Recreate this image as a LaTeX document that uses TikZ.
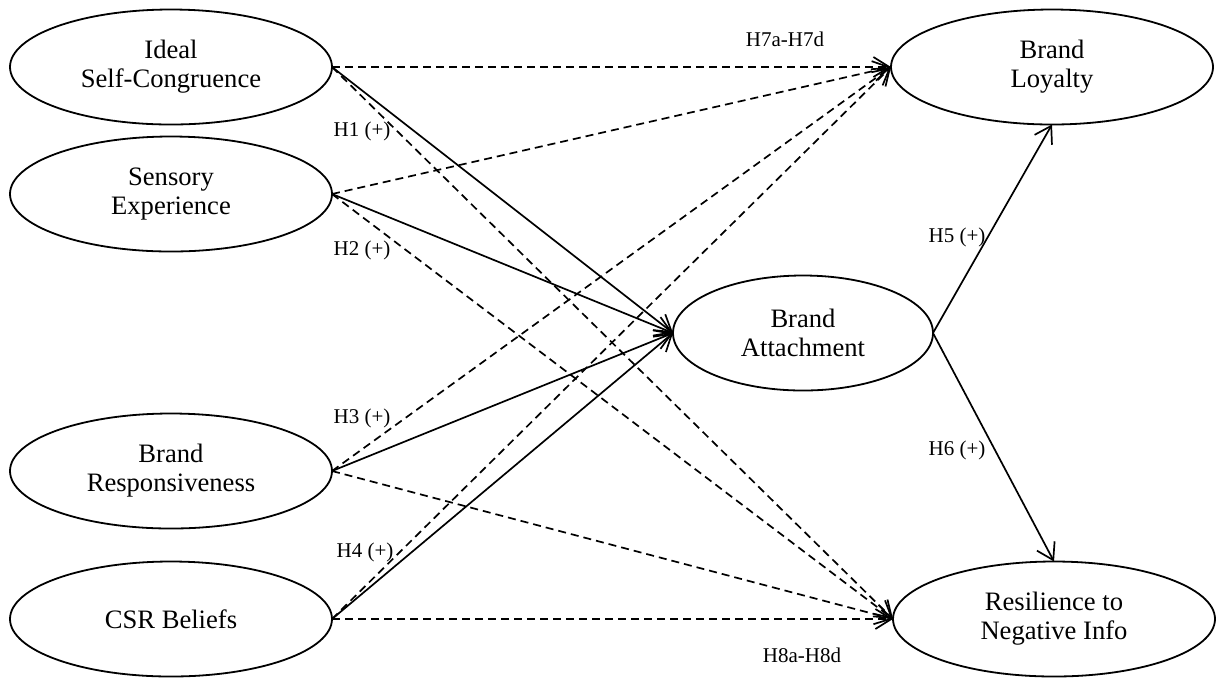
\documentclass[tikz,border=0pt]{standalone}
\usepackage{fontspec}
\setmainfont{Liberation Serif}
\usetikzlibrary{shapes.geometric,arrows.meta}
\begin{document}
\begin{tikzpicture}[x=0.5pt,y=-0.5pt,
  construct/.style={ellipse,draw,line width=0.9pt,inner sep=0pt,outer sep=0pt,
    minimum width=161pt,minimum height=57.5pt,align=center,
    font=\fontsize{13.3}{14.5}\selectfont},
  pathsolid/.style={line width=0.85pt,-{Straight Barb[length=8pt,width=10pt]}},
  pathdash/.style={pathsolid,dash pattern=on 4pt off 2.5pt},
  hyp/.style={font=\fontsize{10.5}{12}\selectfont,inner sep=0pt}]
\useasboundingbox (0,0) rectangle (1216,677);
% constructs
\node[construct] (ideal) at (171,67) {Ideal\\Self-Congruence};
\node[construct] (sens) at (171,194) {Sensory\\Experience};
\node[construct] (resp) at (171,471) {Brand\\Responsiveness};
\node[construct] (csr) at (171,619) {CSR Beliefs};
\node[construct,minimum width=130pt] (att) at (803,333) {Brand\\Attachment};
\node[construct] (loy) at (1052,67) {Brand\\Loyalty};
\node[construct] (res) at (1054,619) {Resilience to\\Negative Info};
% connectors
\foreach \s in {ideal,sens,resp,csr} {
  \draw[pathdash] (\s.east) -- (loy.west);
  \draw[pathdash] (\s.east) -- (res.west);
  \draw[pathsolid] (\s.east) -- (att.west);
}
\draw[pathsolid] (att.east) -- (loy.south);
\draw[pathsolid] (att.east) -- (res.north);
% labels
\node[hyp] (h1) at (362,131) {H1 (+)};
\node[hyp] (h2) at (362,250) {H2 (+)};
\node[hyp] (h3) at (362,418) {H3 (+)};
\node[hyp] (h4) at (365,552) {H4 (+)};
\node[hyp] (h5) at (957,237) {H5 (+)};
\node[hyp] (h6) at (957,450) {H6 (+)};
\node[hyp] (h7) at (785,39) {H7a-H7d};
\node[hyp] (h8) at (802,655) {H8a-H8d};
\end{tikzpicture}
\end{document}
